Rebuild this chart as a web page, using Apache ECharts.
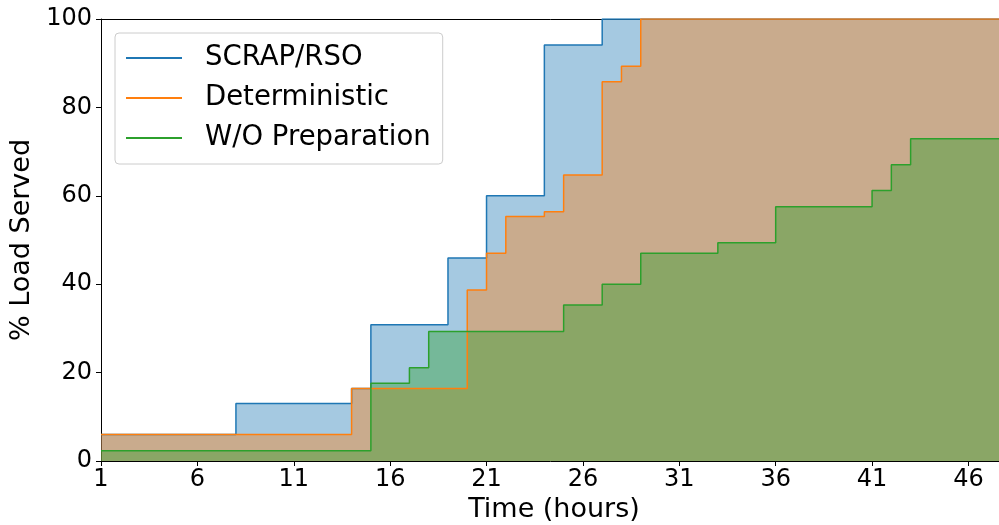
<!DOCTYPE html>
<html>
<head>
<meta charset="utf-8">
<script src="https://cdn.jsdelivr.net/npm/echarts@6/dist/echarts.min.js"></script>
<style>
    body { margin: 0; background: #fff; }
    #main { width: 999px; height: 525px; }
</style>
</head>
<body>
<div id="main"></div>
<script>
// hourly values, hours 1..48
var hours = [];
for (var h = 1; h <= 48; h++) hours.push(h);

var scrapRso = [
    6, 6, 6, 6, 6, 6, 6, 13, 13, 13, 13, 13, 13, 16.4,
    30.8, 30.8, 30.8, 30.8, 45.9, 45.9, 60, 60, 60, 94.1, 94.1, 94.1,
    100, 100, 100, 100, 100, 100, 100, 100, 100, 100, 100, 100, 100, 100,
    100, 100, 100, 100, 100, 100, 100, 100
];
var deterministic = [
    6, 6, 6, 6, 6, 6, 6, 6, 6, 6, 6, 6, 6,
    16.4, 16.4, 16.4, 16.4, 16.4, 16.4, 38.7, 47, 55.3, 55.3, 56.4, 64.7, 64.7,
    85.8, 89.3, 100, 100, 100, 100, 100, 100, 100, 100, 100, 100, 100, 100,
    100, 100, 100, 100, 100, 100, 100, 100
];
var woPreparation = [
    2.3, 2.3, 2.3, 2.3, 2.3, 2.3, 2.3, 2.3, 2.3, 2.3, 2.3, 2.3, 2.3, 2.3,
    17.6, 17.6, 21.1, 29.3, 29.3, 29.3, 29.3, 29.3, 29.3, 29.3, 35.3, 35.3,
    40, 40, 47, 47, 47, 47, 49.4, 49.4, 49.4, 57.5, 57.5, 57.5, 57.5, 57.5,
    61.2, 67, 72.9, 72.9, 72.9, 72.9, 72.9, 72.9
];

var names = ['SCRAP/RSO', 'Deterministic', 'W/O Preparation'];
var colors = ['#1f77b4', '#ff7f0e', '#2ca02c'];
var values = [scrapRso, deterministic, woPreparation];

var font = 'DejaVu Sans';

function pairs(vals) {
    return hours.map(function(h, i) { return [h, vals[i]]; });
}

var series = [];
// fills first
values.forEach(function(vals, i) {
    series.push({
        name: names[i] + ' fill',
        type: 'line',
        step: 'end',
        data: pairs(vals),
        showSymbol: false,
        symbol: 'none',
        lineStyle: { width: 0, opacity: 0 },
        areaStyle: { color: colors[i], opacity: 0.4 },
        color: colors[i],
        silent: true,
        animation: false
    });
});
// step lines on top
values.forEach(function(vals, i) {
    series.push({
        name: names[i],
        type: 'line',
        step: 'end',
        data: pairs(vals),
        showSymbol: false,
        symbol: 'none',
        color: colors[i],
        lineStyle: { width: 1.5, color: colors[i] },
        animation: false
    });
});

var myChart = echarts.init(document.getElementById('main'));

var option = {
    backgroundColor: '#fff',
    animation: false,
    grid: { left: 101, top: 19, bottom: 64, right: -8, outerBoundsMode: 'none', containLabel: false },
    legend: {
        data: names,
        orient: 'vertical',
        left: 115,
        top: 33,
        padding: [10, 12, 11, 11],
        itemGap: 10,
        itemWidth: 56,
        itemHeight: 2,
        icon: 'rect',
        backgroundColor: 'rgba(255,255,255,0.8)',
        borderColor: '#cccccc',
        borderWidth: 1,
        borderRadius: 4,
        textStyle: {
            fontFamily: font,
            fontSize: 27.5,
            color: '#000',
            lineHeight: 30,
            padding: [0, 0, 0, 18]
        }
    },
    xAxis: [{
        type: 'value',
        min: 1,
        max: 48,
        interval: 5,
        name: 'Time (hours)',
        nameLocation: 'middle',
        nameGap: 35,
        nameTextStyle: { fontFamily: font, fontSize: 27, color: '#000' },
        axisLine: { lineStyle: { color: '#000', width: 1 } },
        axisTick: { lineStyle: { color: '#000' }, length: 5 },
        axisLabel: {
            fontFamily: font,
            fontSize: 24,
            color: '#000',
            margin: 7,
            formatter: function(v) { return (v - 1) % 5 === 0 ? String(v) : ''; }
        },
        splitLine: { show: false }
    }, {
        type: 'value',
        position: 'top',
        min: 1,
        max: 48,
        axisLine: { show: true, lineStyle: { color: '#000', width: 1 } },
        axisTick: { show: false },
        axisLabel: { show: false },
        splitLine: { show: false }
    }],
    yAxis: {
        type: 'value',
        min: 0,
        max: 100,
        interval: 20,
        name: '% Load Served',
        nameLocation: 'middle',
        nameGap: 60,
        nameTextStyle: { fontFamily: font, fontSize: 27, color: '#000' },
        axisLine: { show: true, lineStyle: { color: '#000', width: 1 } },
        axisTick: { show: true, lineStyle: { color: '#000' }, length: 5 },
        axisLabel: { fontFamily: font, fontSize: 24, color: '#000', margin: 9 },
        splitLine: { show: false }
    },
    series: series
};

myChart.setOption(option);
</script>
</body>
</html>
